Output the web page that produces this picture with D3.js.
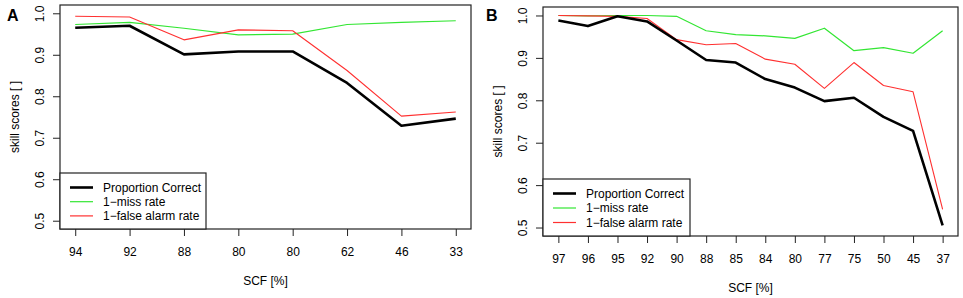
<!DOCTYPE html>
<html>
<head>
<meta charset="utf-8">
<script src="https://cdn.jsdelivr.net/npm/d3@7"></script>
<style>
  body { margin: 0; background: #fff; }
  svg text { font-family: "Liberation Sans", Arial, sans-serif; fill: #000; }
</style>
</head>
<body>
<div id="chart"></div>
<script>
// panel A
var scfA = ["94", "92", "88", "80", "80", "62", "46", "33"];
var pcA = [0.965, 0.970, 0.901, 0.908, 0.908, 0.832, 0.729, 0.746];
var missA = [0.973, 0.978, 0.964, 0.948, 0.950, 0.973, 0.978, 0.982];
var faA = [0.993, 0.991, 0.936, 0.960, 0.958, 0.862, 0.752, 0.762];

// panel B
var scfB = ["97", "96", "95", "92", "90", "88", "85", "84", "80", "77", "75", "50", "45", "37"];
var pcB = [0.988, 0.975, 0.998, 0.986, 0.941, 0.895, 0.889, 0.850, 0.830, 0.798, 0.806, 0.761, 0.728, 0.505];
var missB = [1.000, 0.999, 1.000, 1.000, 0.998, 0.964, 0.955, 0.952, 0.946, 0.970, 0.917, 0.924, 0.911, 0.964];
var faB = [1.000, 0.999, 0.998, 0.993, 0.943, 0.931, 0.934, 0.897, 0.885, 0.828, 0.889, 0.835, 0.820, 0.543];

var yTicks = [0.5, 0.6, 0.7, 0.8, 0.9, 1.0];
var seriesNames = ["Proportion Correct", "1\u2212miss rate", "1\u2212false alarm rate"];
var seriesColors = ["#000000", "#33e633", "#ff3030"];
var seriesWidths = [2.6, 1.2, 1.1];

var svg = d3.select("#chart").append("svg")
    .attr("width", 963)
    .attr("height", 298);

function panel(opt, labels, series) {
  var n = labels.length;
  var ext = 0.04 * (n - 1);
  var x = d3.scaleLinear()
      .domain([1 - ext, n + ext])
      .range([opt.left, opt.right]);
  var y = d3.scaleLinear()
      .domain([0.48, 1.02])
      .range([opt.bottom, opt.top]);

  var g = svg.append("g");

  // lines
  var line = d3.line()
      .x((d, i) => x(i + 1))
      .y(d => y(d));
  // draw green, red, then black on top
  [1, 2, 0].forEach(function(k) {
    g.append("path")
      .datum(series[k])
      .attr("fill", "none")
      .attr("stroke", seriesColors[k])
      .attr("stroke-width", seriesWidths[k])
      .attr("stroke-linejoin", "round")
      .attr("d", line);
  });

  // x axis
  var xa = g.append("g")
      .attr("transform", "translate(0," + opt.bottom + ")")
      .call(d3.axisBottom(x)
        .tickValues(d3.range(1, n + 1))
        .tickFormat(d => labels[d - 1])
        .tickSize(7)
        .tickPadding(11.5));
  xa.select(".domain").remove();
  xa.selectAll("text").attr("font-size", 12).attr("font-family", null);
  xa.selectAll("line").attr("stroke", "#222");

  // y axis, R style rotated labels
  var ya = g.append("g")
      .attr("transform", "translate(" + opt.left + ",0)")
      .call(d3.axisLeft(y)
        .tickValues(yTicks)
        .tickFormat(d3.format(".1f"))
        .tickSize(7));
  ya.select(".domain").remove();
  ya.selectAll("line").attr("stroke", "#222");
  ya.selectAll("text")
    .attr("font-size", 12)
    .attr("font-family", null)
    .attr("x", 0)
    .attr("y", -16)
    .attr("dy", 0)
    .attr("text-anchor", "middle")
    .attr("transform", "rotate(-90)");

  // box
  g.append("rect")
    .attr("x", opt.left)
    .attr("y", opt.top)
    .attr("width", opt.right - opt.left)
    .attr("height", opt.bottom - opt.top)
    .attr("fill", "none")
    .attr("stroke", "#222")
    .attr("stroke-width", 1.2);

  // titles
  g.append("text")
    .attr("x", (opt.left + opt.right) / 2)
    .attr("y", opt.bottom + 56)
    .attr("text-anchor", "middle")
    .attr("font-size", 12)
    .text("SCF [%]");
  g.append("text")
    .attr("transform", "translate(" + (opt.left - 41) + "," + ((opt.top + opt.bottom) / 2) + ") rotate(-90)")
    .attr("text-anchor", "middle")
    .attr("font-size", 12)
    .text("skill scores [ ]");
  g.append("text")
    .attr("x", opt.tagX)
    .attr("y", 21)
    .attr("font-size", 16)
    .attr("font-weight", "bold")
    .text(opt.tag);

  // legend
  var lg = g.append("g");
  lg.append("rect")
    .attr("x", opt.left)
    .attr("y", opt.bottom - opt.legH)
    .attr("width", opt.legW)
    .attr("height", opt.legH)
    .attr("fill", "#fff")
    .attr("stroke", "#222")
    .attr("stroke-width", 1.2);
  seriesNames.forEach(function(name, k) {
    var ry = opt.bottom - opt.legH + opt.legRow0 + k * opt.legStep;
    lg.append("line")
      .attr("x1", opt.left + 10)
      .attr("x2", opt.left + 33)
      .attr("y1", ry)
      .attr("y2", ry)
      .attr("stroke", seriesColors[k])
      .attr("stroke-width", k == 0 ? 2.6 : 1.2);
    lg.append("text")
      .attr("x", opt.left + 43)
      .attr("y", ry)
      .attr("dy", "0.35em")
      .attr("font-size", 12)
      .text(name);
  });
}

panel({left: 60, right: 471, top: 5, bottom: 229, tag: "A", tagX: 7,
       legW: 146, legH: 56, legRow0: 14.5, legStep: 14.2},
      scfA, [pcA, missA, faA]);
panel({left: 543, right: 958, top: 7, bottom: 236, tag: "B", tagX: 486,
       legW: 147, legH: 57, legRow0: 14.5, legStep: 14.5},
      scfB, [pcB, missB, faB]);
</script>
</body>
</html>
